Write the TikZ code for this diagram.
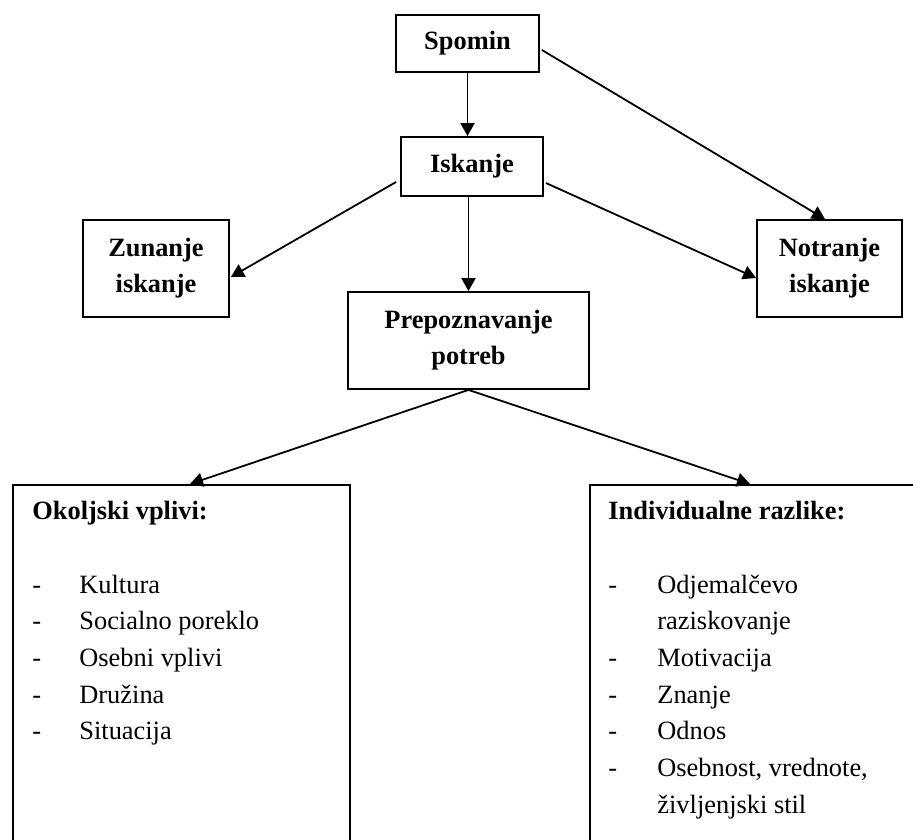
\documentclass[tikz,border=0pt]{standalone}
\usepackage{fontspec}
\setmainfont{Liberation Serif}
\usetikzlibrary{arrows.meta}
\begin{document}
\begin{tikzpicture}[x=0.5pt,y=-0.5pt,
  box/.style={draw, line width=0.9pt, inner sep=0pt, align=center,
    font=\fontsize{13.2}{18}\selectfont\bfseries},
  listbox/.style={draw, line width=0.9pt, inner sep=0pt, anchor=north west},
  arr/.style={line width=0.9pt, -{Triangle[length=6.5pt,width=7pt]}},
  listtext/.style={anchor=base west, inner sep=0pt,
    font=\fontsize{13.2}{18.35}\selectfont}]
\useasboundingbox (0,0) rectangle (913,839);
\clip (0,0) rectangle (913,839);

% upper boxes
\node[box, minimum width=71.5pt, minimum height=28.5pt] (spomin) at (467.5,43.5) {Spomin};
\node[box, minimum width=71pt, minimum height=29.5pt] (iskanje) at (472,166.5) {Iskanje};
\node[box, minimum width=73pt, minimum height=48.5pt] (zunanje) at (156,268.5) {Zunanje\\iskanje};
\node[box, minimum width=120.5pt, minimum height=48.5pt] (prep) at (468.5,340.5) {Prepoznavanje\\potreb};
\node[box, minimum width=72.5pt, minimum height=48.5pt] (notranje) at (829.5,268.5) {Notranje\\iskanje};

% lower boxes, running past the page edge
\node[listbox, minimum width=168.5pt, minimum height=220pt] (okolje) at (12,484) {};
\node[listbox, minimum width=220pt, minimum height=220pt] (razlike) at (589,484) {};

\node[listtext] (okoljetxt) at (32,519.6) {\begin{tabular}[t]{@{}p{23.5pt}@{}l@{}}
\multicolumn{2}{@{}l@{}}{\bfseries Okoljski vplivi:}\\
\\
- & Kultura\\
- & Socialno poreklo\\
- & Osebni vplivi\\
- & Družina\\
- & Situacija
\end{tabular}};

\node[listtext] (razliketxt) at (608,519.6) {\begin{tabular}[t]{@{}p{24.5pt}@{}l@{}}
\multicolumn{2}{@{}l@{}}{\bfseries Individualne razlike:}\\
\\
- & Odjemalčevo\\
  & raziskovanje\\
- & Motivacija\\
- & Znanje\\
- & Odnos\\
- & Osebnost, vrednote,\\
  & življenjski stil
\end{tabular}};

% connectors
\draw[arr] (spomin.south) -- (spomin.south |- iskanje.north);
\draw[arr] ([xshift=1pt,yshift=-3.25pt]spomin.east) -- ([xshift=-2.25pt]notranje.north);
\draw[arr] ([xshift=-2pt,yshift=-7.75pt]iskanje.west) -- ([xshift=0.5pt,yshift=-4.25pt]zunanje.east);
\draw[arr] ([xshift=1pt,yshift=-8.25pt]iskanje.east) -- ([yshift=-4.75pt]notranje.west);
\draw[arr] (iskanje.south -| prep.north) -- (prep.north);
\draw[arr] (prep.south) -- ([xshift=89pt]okolje.north west);
\draw[arr] (prep.south) -- ([xshift=80.5pt]razlike.north west);
\end{tikzpicture}
\end{document}
